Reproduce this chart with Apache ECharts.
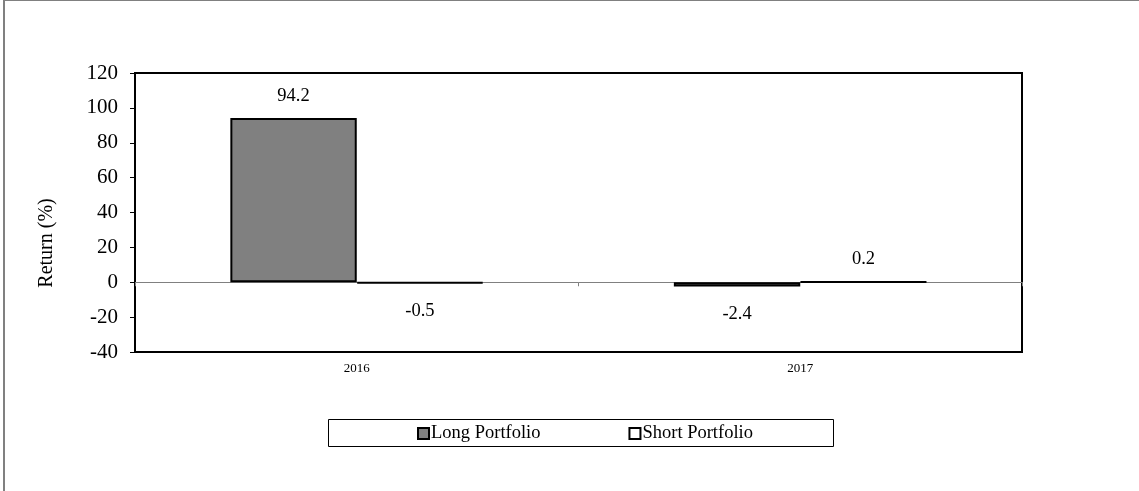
<!DOCTYPE html>
<html>
<head>
<meta charset="utf-8">
<script src="https://cdn.jsdelivr.net/npm/echarts@6/dist/echarts.min.js"></script>
<style>
html,body{margin:0;padding:0;background:#fff;}
#chart{width:1139px;height:491px;}
</style>
</head>
<body>
<div id="chart"></div>
<script>
var categories = ['2016', '2017'];
var longPortfolio = [94.2, -2.4];
var shortPortfolio = [-0.5, 0.2];
var seriesNames = ['Long Portfolio', 'Short Portfolio'];
var yTicks = {min: -40, max: 120, interval: 20};

var FONT = '"Liberation Serif", "Times New Roman", serif';

function withLabels(values) {
  return values.map(function (v) {
    return {
      value: v,
      label: {position: v >= 0 ? 'top' : 'bottom', distance: v >= 0 ? 12 : 18}
    };
  });
}

var chart = echarts.init(document.getElementById('chart'), null, {renderer: 'canvas'});
var option = {
  backgroundColor: '#ffffff',
  animation: false,
  graphic: [
    {type: 'rect', shape: {x: 4, y: 0, width: 1300, height: 700}, style: {fill: 'none', stroke: '#808080', lineWidth: 2}, silent: true},
    {type: 'rect', shape: {x: 328.5, y: 419.5, width: 505, height: 27}, style: {fill: '#fff', stroke: '#000', lineWidth: 1}, silent: true, z: -1},
    {type: 'text', x: 47, y: 243, rotation: Math.PI / 2,
      style: {text: 'Return (%)', font: '20px ' + FONT, fill: '#000', align: 'center', verticalAlign: 'middle'}}
  ],
  grid: {left: 135, top: 73, right: 117, bottom: 139, show: true, borderColor: '#000', borderWidth: 2, backgroundColor: 'transparent'},
  legend: {
    data: seriesNames,
    left: 417, top: 424,
    padding: 0,
    itemGap: 88,
    itemWidth: 11, itemHeight: 11,
    icon: 'rect',
    textStyle: {fontFamily: FONT, fontSize: 18.5, color: '#000', padding: [0, 0, 0, -3]}
  },
  xAxis: [
    {
      type: 'category', data: categories,
      axisLine: {show: false, onZero: false},
      axisTick: {show: false},
      axisLabel: {fontFamily: FONT, fontSize: 13, color: '#000', margin: 10}
    },
    {
      type: 'category', data: categories, position: 'bottom',
      axisLine: {show: true, onZero: true, lineStyle: {color: '#808080', width: 1}},
      axisTick: {show: true, length: 4, lineStyle: {color: '#808080'}},
      axisLabel: {show: false}
    }
  ],
  yAxis: {
    type: 'value', min: yTicks.min, max: yTicks.max, interval: yTicks.interval,
    axisLine: {show: true, lineStyle: {color: '#000', width: 2}},
    axisTick: {show: true, length: 5, lineStyle: {color: '#000'}},
    splitLine: {show: false},
    axisLabel: {fontFamily: FONT, fontSize: 21, color: '#000', margin: 17}
  },
  series: [
    {
      name: seriesNames[0], type: 'bar', xAxisIndex: 0,
      data: withLabels(longPortfolio),
      barGap: '0%', barCategoryGap: '43%',
      itemStyle: {color: '#808080', borderColor: '#000', borderWidth: 2},
      label: {show: true, fontFamily: FONT, fontSize: 18.5, color: '#000'}
    },
    {
      name: seriesNames[1], type: 'bar', xAxisIndex: 0,
      data: withLabels(shortPortfolio),
      barGap: '0%', barCategoryGap: '43%',
      itemStyle: {color: '#ffffff', borderColor: '#000', borderWidth: 2},
      label: {show: true, fontFamily: FONT, fontSize: 18.5, color: '#000'}
    }
  ]
};
chart.setOption(option);
</script>
</body>
</html>
